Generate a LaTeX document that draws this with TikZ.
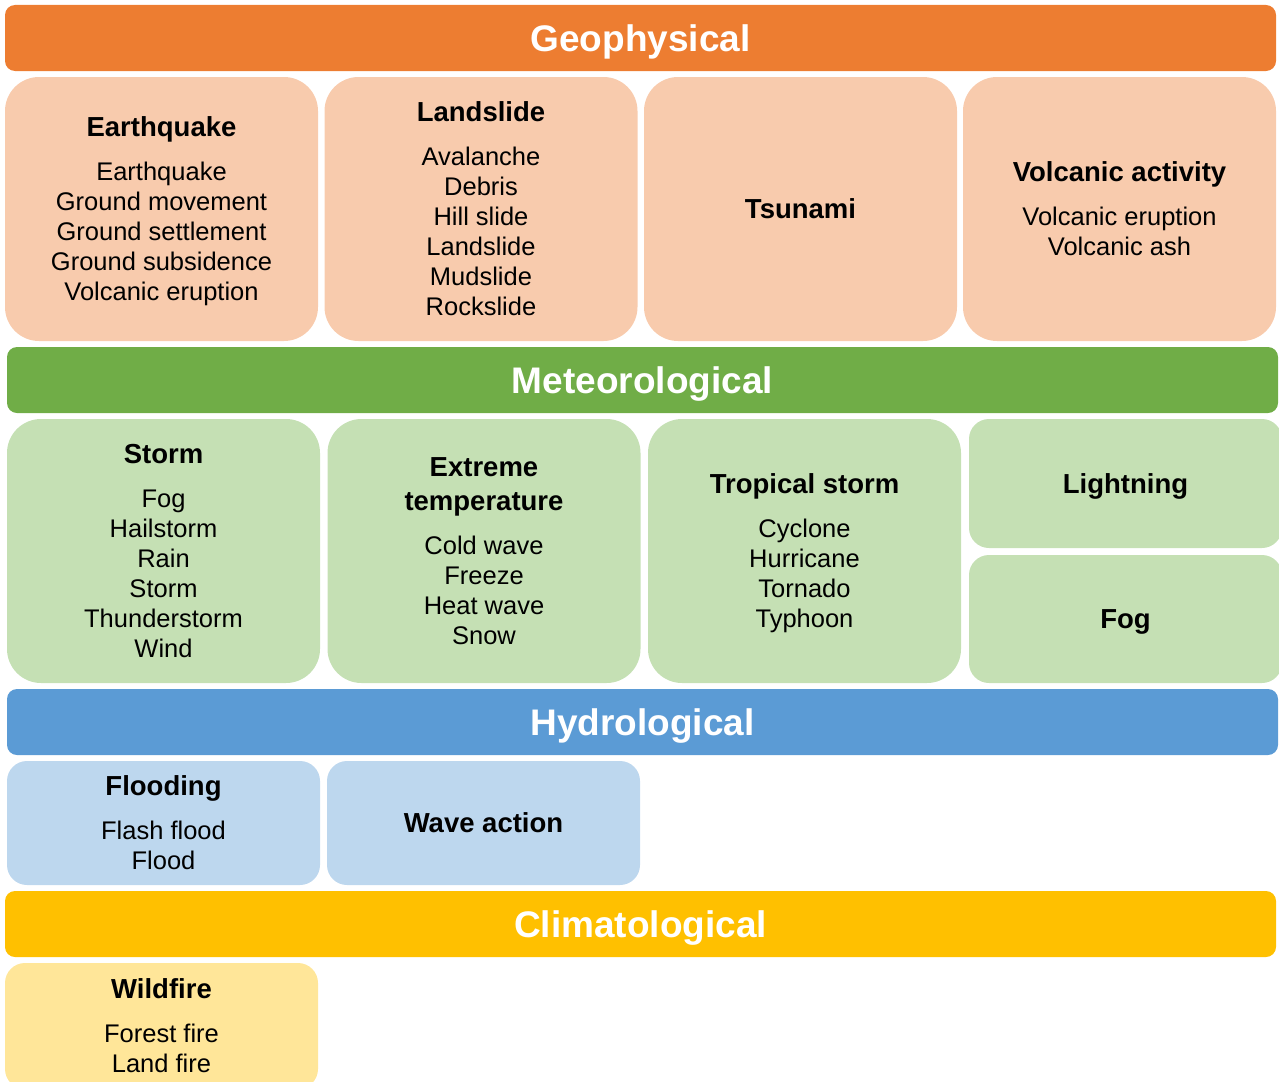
\documentclass[tikz,border=0pt]{standalone}
\usepackage{fontspec}
\setmainfont{Liberation Sans}
\definecolor{geoDark}{HTML}{ED7D31}
\definecolor{geoLight}{HTML}{F8CBAD}
\definecolor{metDark}{HTML}{70AD47}
\definecolor{metLight}{HTML}{C5E0B4}
\definecolor{hydDark}{HTML}{5B9BD5}
\definecolor{hydLight}{HTML}{BDD7EE}
\definecolor{cliDark}{HTML}{FFC000}
\definecolor{cliLight}{HTML}{FFE699}
\newcommand{\hd}{\fontsize{27.5}{34}\selectfont\bfseries}
\begin{document}
\begin{tikzpicture}[x=1pt, y=-1pt,
    bar/.style={rectangle, rounded corners=10pt, minimum width=1271pt, minimum height=66pt, inner sep=0pt, text depth=0pt, text=white, font=\fontsize{37}{44}\selectfont\bfseries},
    box/.style={rectangle, rounded corners=34pt, minimum width=313pt, minimum height=264pt, inner sep=0pt, text depth=0pt, align=center, font=\fontsize{25.5}{30}\selectfont},
    smallbox/.style={box, rounded corners=20pt}]
\useasboundingbox (0,0) rectangle (1279,1081);
        \node(G)[bar, fill=geoDark] at (640.5,38){Geophysical};
        \node(G1)[box, fill=geoLight] at (161.5,209){{\hd Earthquake}\\[14pt]Earthquake\\Ground movement\\Ground settlement\\Ground subsidence\\Volcanic eruption};
        \node(G2)[box, fill=geoLight] at (481,209){{\hd Landslide}\\[14pt]Avalanche\\Debris\\Hill slide\\Landslide\\Mudslide\\Rockslide};
        \node(G3)[box, fill=geoLight] at (800.5,209){{\hd Tsunami}};
        \node(G4)[box, fill=geoLight] at (1119.5,209){{\hd Volcanic activity}\\[14pt]Volcanic eruption\\Volcanic ash};
        \node(M)[bar, fill=metDark] at (642.5,380){Meteorological};
        \node(M1)[box, fill=metLight] at (163.5,551){{\hd Storm}\\[14pt]Fog\\Hailstorm\\Rain\\Storm\\Thunderstorm\\Wind};
        \node(M2)[box, fill=metLight] at (484,551){{\hd Extreme}\\[4pt]{\hd temperature}\\[14pt]Cold wave\\Freeze\\Heat wave\\Snow};
        \node(M3)[box, fill=metLight] at (804.5,551){{\hd Tropical storm}\\[14pt]Cyclone\\Hurricane\\Tornado\\Typhoon};
        \node(M4)[smallbox, fill=metLight, minimum height=129pt] at (1125.5,483.5){{\hd Lightning}};
        \node(M5)[smallbox, fill=metLight, minimum height=128pt] at (1125.5,619){{\hd Fog}};
        \node(H)[bar, fill=hydDark] at (642.5,722){Hydrological};
        \node(H1)[smallbox, fill=hydLight, minimum height=124pt] at (163.5,823){{\hd Flooding}\\[14pt]Flash flood\\Flood};
        \node(H2)[smallbox, fill=hydLight, minimum height=124pt] at (483.5,823){{\hd Wave action}};
        \node(C)[bar, fill=cliDark] at (640.5,924){Climatological};
        \node(C1)[smallbox, fill=cliLight, minimum height=126pt] at (161.5,1026){{\hd Wildfire}\\[14pt]Forest fire\\Land fire};
    \end{tikzpicture}
\end{document}
